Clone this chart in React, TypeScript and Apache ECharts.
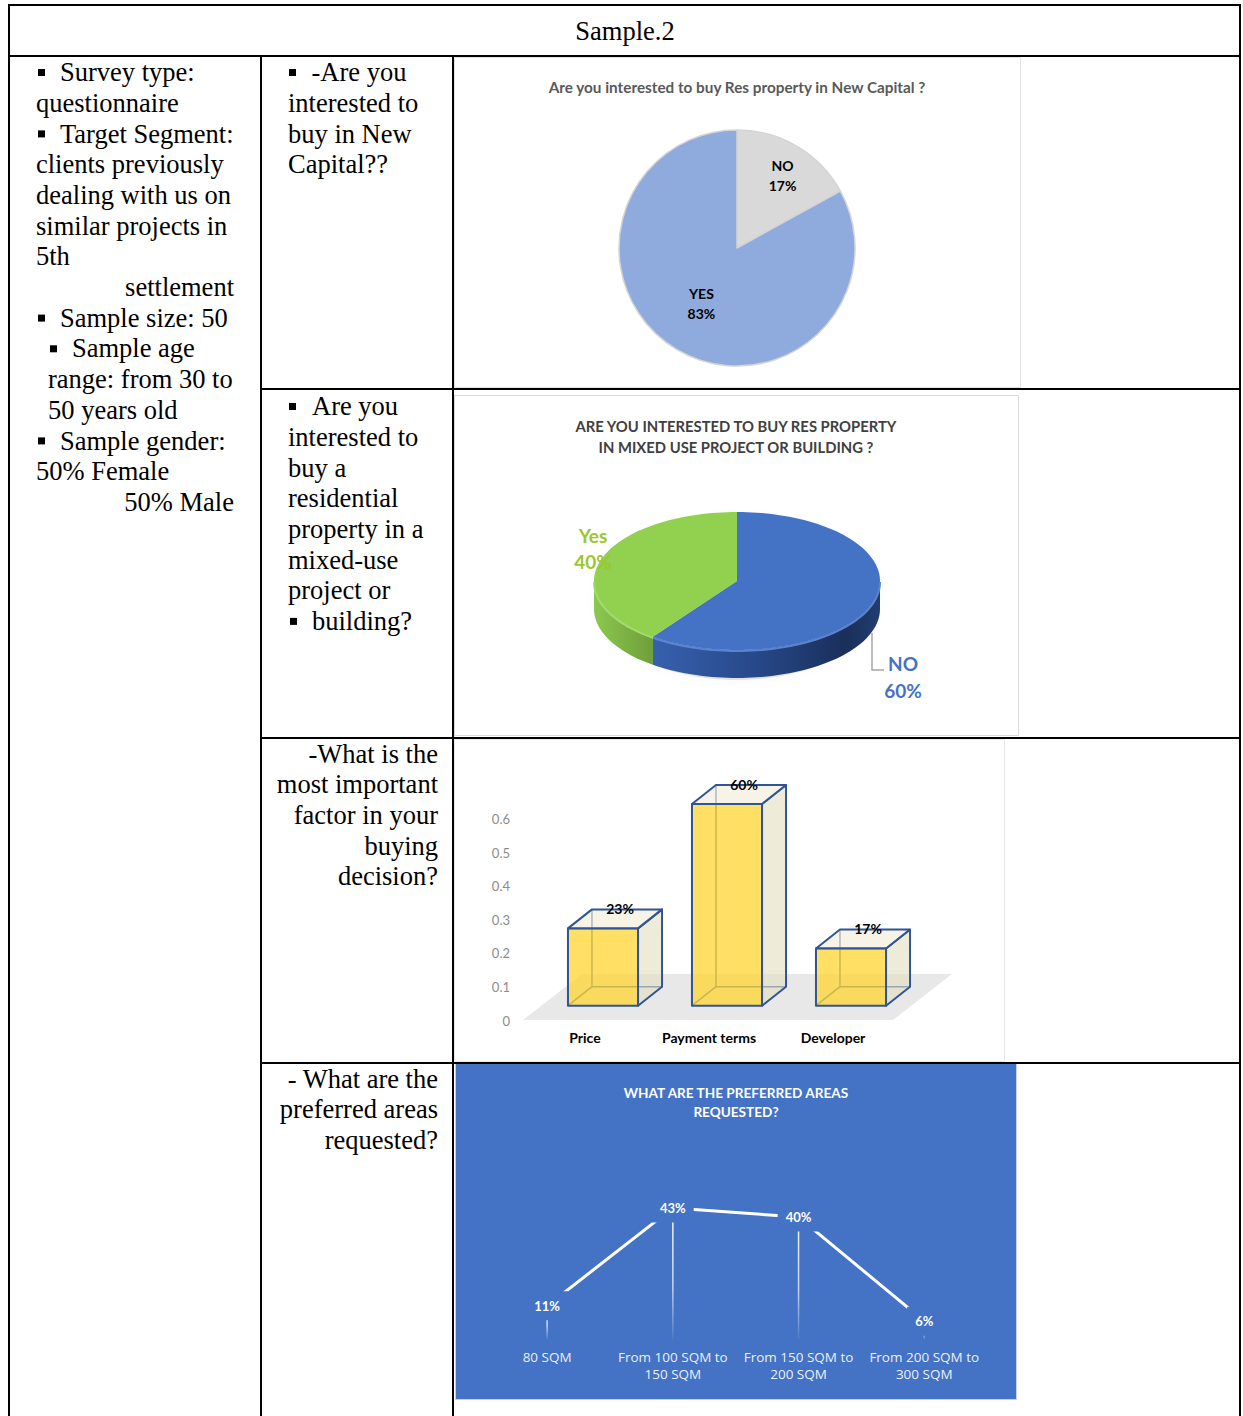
import React, { useEffect, useRef } from "react";
import * as echarts from "echarts";

const SERIF = "'Liberation Serif', 'Times New Roman', serif";
const SANS = "Lato, 'Open Sans', 'Noto Sans', sans-serif";
const SANS2 = "'Open Sans', 'Noto Sans', sans-serif";

// ---------- data ----------
const pageTitle = "Sample.2";

const pie1Title = "Are you interested to buy Res property in New Capital ?";
const pie1Cats = ["NO", "YES"];
const pie1Vals = [17, 83];

const pie2TitleLines = ["ARE YOU INTERESTED TO BUY RES PROPERTY", "IN MIXED USE PROJECT OR BUILDING ?"];
const pie2Cats = ["NO", "Yes"];
const pie2Vals = [60, 40];

const barCats = ["Price", "Payment terms", "Developer"];
const barVals = [0.23, 0.6, 0.17];

const lineTitleLines = ["WHAT ARE THE PREFERRED AREAS", "REQUESTED?"];
const lineCats = ["80 SQM", "From 100 SQM to 150 SQM", "From 150 SQM to 200 SQM", "From 200 SQM to 300 SQM"];
const lineVals = [0.11, 0.43, 0.4, 0.06];

// table texts: [text, x, line index, align, bulletX]
type TL = [string, number, number, ("left" | "right")?, number?];
const col1Lines: TL[] = [
  ["Survey type:", 60, 0, "left", 38],
  ["questionnaire", 36, 1],
  ["Target Segment:", 60, 2, "left", 38],
  ["clients previously", 36, 3],
  ["dealing with us on", 36, 4],
  ["similar projects in", 36, 5],
  ["5th", 36, 6],
  ["settlement", 234, 7, "right"],
  ["Sample size: 50", 60, 8, "left", 38],
  ["Sample age", 72, 9, "left", 50],
  ["range: from 30 to", 48, 10],
  ["50 years old", 48, 11],
  ["Sample gender:", 60, 12, "left", 38],
  ["50% Female", 36, 13],
  ["50% Male", 234, 14, "right"],
];
const q1Lines: TL[] = [
  ["-Are you", 311.5, 0, "left", 289],
  ["interested to", 288, 1],
  ["buy in New", 288, 2],
  ["Capital??", 288, 3],
];
const q2Lines: TL[] = [
  ["Are you", 312, 0, "left", 289],
  ["interested to", 288, 1],
  ["buy a", 288, 2],
  ["residential", 288, 3],
  ["property in a", 288, 4],
  ["mixed-use", 288, 5],
  ["project or", 288, 6],
  ["building?", 312, 7, "left", 290],
];
const q3Lines: TL[] = [
  ["-What is the", 438, 0, "right"],
  ["most important", 438, 1, "right"],
  ["factor in your", 438, 2, "right"],
  ["buying", 438, 3, "right"],
  ["decision?", 438, 4, "right"],
];
const q4Lines: TL[] = [
  ["- What are the", 438, 0, "right"],
  ["preferred areas", 438, 1, "right"],
  ["requested?", 438, 2, "right"],
];

// ---------- layout helpers ----------
const LH = 30.7;
const FS = 26.5;

function textBlock(lines: TL[], base0: number): any[] {
  const out: any[] = [];
  lines.forEach(([t, x, k, align, bx]) => {
    const base = base0 + LH * k;
    out.push({
      type: "text",
      x,
      y: base - 8.9,
      style: { text: t, fill: "#000", fontFamily: SERIF, fontSize: FS, align: align || "left", verticalAlign: "middle" },
    });
    if (bx !== undefined) {
      out.push({ type: "rect", shape: { x: bx, y: base - 12, width: 7, height: 7 }, style: { fill: "#000" } });
    }
  });
  return out;
}

function hRule(x: number, y: number, w: number): any {
  return { type: "rect", shape: { x, y, width: w, height: 2 }, style: { fill: "#000" } };
}
function vRule(x: number, y: number, h: number): any {
  return { type: "rect", shape: { x, y, width: 2, height: h }, style: { fill: "#000" } };
}
function label(t: string, x: number, y: number, opts: any): any {
  return {
    type: "text",
    x,
    y,
    style: Object.assign({ text: t, align: "center", verticalAlign: "middle", fontFamily: SANS, fontWeight: "bold" }, opts),
  };
}

// 3D pie geometry
const P2 = { cx: 737, cy: 581, rx: 143, ry: 69, depth: 28 };
function ellPt(theta: number, dy: number): number[] {
  const r = (theta * Math.PI) / 180;
  return [P2.cx + P2.rx * Math.cos(r), P2.cy - P2.ry * Math.sin(r) + dy];
}
function arc(a: number, b: number, dy: number): number[][] {
  const n = Math.max(2, Math.ceil(Math.abs(b - a) / 2));
  const pts: number[][] = [];
  for (let i = 0; i <= n; i++) pts.push(ellPt(a + ((b - a) * i) / n, dy));
  return pts;
}
const pie2TopColors = ["#4472C4", "#92D050"];
const pie2RimColors = ["#5A84CF", "#A3DA6C"];
const pie2LabelColors = ["#4472C4", "#9AC72C"];
// label anchor points (x, name line y, value line y)
const pie2LabelPos = [
  [903, 663, 690],
  [593, 535, 561],
];
const pie2SideStops = [
  [
    { offset: 0, color: "#3761AD" },
    { offset: 0.45, color: "#27488A" },
    { offset: 0.85, color: "#1A2F5A" },
    { offset: 1, color: "#223D70" },
  ],
  [
    { offset: 0, color: "#8CC850" },
    { offset: 1, color: "#6E9F3A" },
  ],
];
const pie1Colors = ["#D9D9D9", "#8FAADC"];
const pie1LabelOffsets = [
  [14, -19],
  [-4, 2],
];

function buildOption(): any {
  const elements: any[] = [];

  // chart image backgrounds
  elements.push({ type: "rect", shape: { x: 454.5, y: 57.5, width: 566, height: 330 }, style: { fill: "#fff", stroke: "#E2E2E2", lineWidth: 1 } });
  elements.push({ type: "rect", shape: { x: 454.5, y: 395.5, width: 564, height: 340 }, style: { fill: "#fff", stroke: "#D9D9D9", lineWidth: 1 } });
  elements.push({ type: "rect", shape: { x: 454.5, y: 739.5, width: 550, height: 322 }, style: { fill: "#fff", stroke: "#E8E8E8", lineWidth: 1 } });
  elements.push({ type: "rect", shape: { x: 455.5, y: 1063.5, width: 561, height: 336 }, style: { fill: "#4472C4", stroke: "#C5D0E6", lineWidth: 1 } });

  // table rules
  elements.push(hRule(8, 4, 1233));
  elements.push(hRule(8, 55, 1233));
  elements.push(vRule(8, 4, 1412));
  elements.push(vRule(260, 55, 1361));
  elements.push(vRule(452, 55, 1361));
  elements.push(vRule(1239, 4, 1412));
  elements.push(hRule(260, 388, 981));
  elements.push(hRule(260, 737, 981));
  elements.push(hRule(260, 1062, 981));

  // header
  elements.push({
    type: "text",
    x: 625,
    y: 31,
    style: { text: pageTitle, fill: "#000", fontFamily: SERIF, fontSize: FS, align: "center", verticalAlign: "middle" },
  });

  elements.push(...textBlock(col1Lines, 81));
  elements.push(...textBlock(q1Lines, 81));
  elements.push(...textBlock(q2Lines, 415));
  elements.push(...textBlock(q3Lines, 762.5));
  elements.push(...textBlock(q4Lines, 1087.5));

  // chart titles
  elements.push(label(pie1Title, 737, 87, { fill: "#595959", fontSize: 15.3 }));
  elements.push(label(pie2TitleLines[0], 736, 426, { fill: "#404040", fontSize: 14.8 }));
  elements.push(label(pie2TitleLines[1], 736, 447, { fill: "#404040", fontSize: 14.8 }));
  elements.push(label(lineTitleLines[0], 736, 1093, { fill: "#FFFFFF", fontSize: 13.6 }));
  elements.push(label(lineTitleLines[1], 736, 1112, { fill: "#FFFFFF", fontSize: 13.6 }));

  // pie 2 shadow
  elements.push({
    type: "ellipse",
    shape: { cx: 737, cy: 598, rx: 143, ry: 82 },
    style: { fill: "rgba(0,0,0,0.10)", shadowBlur: 10, shadowColor: "rgba(0,0,0,0.25)" },
  });

  // bar floor
  elements.push({
    type: "polygon",
    shape: { points: [[523, 1020], [893, 1020], [952, 974], [582, 974]] },
    style: { fill: "#E8E8E8" },
  });

  const pie2Total = pie2Vals.reduce((a, b) => a + b, 0);

  return {
    animation: false,
    graphic: { elements },
    grid: [
      { left: 523, width: 372, top: 819, height: 201.7, containLabel: false },
      { left: 484.3, width: 502.8, top: 1186.5, height: 153, containLabel: false },
    ],
    xAxis: [
      {
        gridIndex: 0,
        type: "category",
        data: barCats,
        axisLine: { show: false },
        axisTick: { show: false },
        splitLine: { show: false },
        axisLabel: { color: "#000", fontWeight: "bold", fontSize: 14, fontFamily: SANS, margin: 10, interval: 0 },
      },
      {
        gridIndex: 1,
        type: "category",
        data: lineCats,
        axisLine: { show: false },
        axisTick: { show: false },
        splitLine: { show: false },
        axisLabel: {
          color: "rgba(255,255,255,0.92)",
          fontSize: 13.5,
          fontFamily: SANS2,
          lineHeight: 17,
          margin: 9,
          interval: 0,
          formatter: (v: string) => v.replace(" to ", " to\n"),
        },
      },
    ],
    yAxis: [
      {
        gridIndex: 0,
        type: "value",
        min: 0,
        max: 0.6,
        interval: 0.1,
        axisLine: { show: false },
        axisTick: { show: false },
        splitLine: { show: false },
        axisLabel: { color: "#8C8C8C", fontSize: 13, fontFamily: SANS, margin: 13 },
      },
      { gridIndex: 1, type: "value", min: 0, max: 0.5, show: false },
    ],
    series: [
      {
        type: "pie",
        center: [737, 248],
        radius: 118,
        startAngle: 90,
        clockwise: true,
        silent: true,
        data: pie1Cats.map((n, i) => ({
          name: n,
          value: pie1Vals[i],
          itemStyle: { color: pie1Colors[i] },
          label: { offset: pie1LabelOffsets[i] },
        })),
        itemStyle: { borderColor: "#D4D4D4", borderWidth: 1.5 },
        label: {
          show: true,
          position: "inside",
          formatter: "{b}\n{d}%",
          color: "#000",
          fontFamily: SANS,
          fontWeight: "bold",
          fontSize: 14,
          lineHeight: 20,
        },
        labelLine: { show: false },
      },
      {
        type: "custom",
        coordinateSystem: "none",
        silent: true,
        data: pie2Vals.map((v) => [v]),
        renderItem: (params: any, api: any) => {
          const i = params.dataIndex;
          const v = api.value(0);
          let before = 0;
          for (let j = 0; j < i; j++) before += pie2Vals[j];
          const start = 90 - (360 * before) / pie2Total;
          const end = start - (360 * v) / pie2Total;
          const children: any[] = [];
          const rims: any[] = [];
          const lowers = [
            [-540, -360],
            [-180, 0],
            [180, 360],
          ];
          for (const [a, b] of lowers) {
            const s = Math.max(end, a);
            const e = Math.min(start, b);
            if (e > s + 0.01) {
              const top = arc(s, e, 0);
              const bot = arc(e, s, P2.depth);
              children.push({
                type: "polygon",
                shape: { points: top.concat(bot) },
                style: { fill: new echarts.graphic.LinearGradient(0, 0, 1, 0, pie2SideStops[i]) },
              });
              rims.push({
                type: "polyline",
                shape: { points: arc(s, e, 1) },
                style: { stroke: pie2RimColors[i], lineWidth: 2, fill: null },
              });
            }
          }
          children.push({
            type: "polygon",
            shape: { points: [[P2.cx, P2.cy]].concat(arc(start, end, 0)) },
            style: { fill: pie2TopColors[i] },
          });
          children.push(...rims);
          const lp = pie2LabelPos[i];
          const ls = { fill: pie2LabelColors[i], fontFamily: SANS, fontWeight: "bold", fontSize: 19, align: "center", verticalAlign: "middle" };
          children.push({ type: "text", x: lp[0], y: lp[1], z2: 50, style: Object.assign({ text: pie2Cats[i] }, ls) });
          children.push({ type: "text", x: lp[0], y: lp[2], z2: 50, style: Object.assign({ text: Math.round((100 * v) / pie2Total) + "%" }, ls) });
          if (i === 0) {
            children.push({
              type: "polyline",
              shape: { points: [[872, 633], [872, 670], [884, 670]] },
              style: { stroke: "#A6A6A6", lineWidth: 1.5, fill: null },
            });
          }
          return { type: "group", children };
        },
      },
      {
        type: "custom",
        xAxisIndex: 0,
        yAxisIndex: 0,
        silent: true,
        clip: false,
        data: barVals.map((v, i) => [i, v]),
        renderItem: (params: any, api: any) => {
          const i = api.value(0);
          const v = api.value(1);
          const p0 = api.coord([i, 0]);
          const p1 = api.coord([i, v]);
          const band = api.size([1, 0])[0];
          const w = band * 0.565;
          const L = p0[0] + 18 - w / 2;
          const R = L + w;
          const B = p0[1] - 15;
          const T = p1[1] - 15;
          const dx = 24;
          const dy = -19;
          const edge = { stroke: "#2F5597", lineWidth: 2, lineJoin: "round" };
          const hid = { stroke: "#2F5597", lineWidth: 1.5 };
          return {
            type: "group",
            children: [
              { type: "line", shape: { x1: L + dx, y1: B + dy, x2: L + dx, y2: T + dy }, style: hid },
              { type: "line", shape: { x1: L + dx, y1: B + dy, x2: R + dx, y2: B + dy }, style: hid },
              { type: "line", shape: { x1: L, y1: B, x2: L + dx, y2: B + dy }, style: hid },
              {
                type: "polygon",
                shape: { points: [[R, T], [R + dx, T + dy], [R + dx, B + dy], [R, B]] },
                style: Object.assign({ fill: "rgba(228,222,192,0.6)" }, edge),
              },
              {
                type: "polygon",
                shape: { points: [[L, T], [L + dx, T + dy], [R + dx, T + dy], [R, T]] },
                style: Object.assign({ fill: "rgba(243,237,218,0.65)" }, edge),
              },
              {
                type: "rect",
                shape: { x: L, y: T, width: w, height: B - T },
                style: Object.assign({ fill: "rgba(255,213,50,0.75)" }, edge),
              },
              {
                type: "text",
                x: (L + R) / 2 + 17,
                y: T + dy - 1,
                style: {
                  text: Math.round(v * 100) + "%",
                  fill: "#000",
                  fontFamily: SANS,
                  fontWeight: "bold",
                  fontSize: 14,
                  align: "center",
                  verticalAlign: "middle",
                },
              },
            ],
          };
        },
      },
      {
        type: "bar",
        xAxisIndex: 1,
        yAxisIndex: 1,
        data: lineVals,
        barWidth: 1.5,
        z: 2,
        silent: true,
        itemStyle: {
          color: new echarts.graphic.LinearGradient(0, 0, 0, 1, [
            { offset: 0, color: "rgba(255,255,255,0.95)" },
            { offset: 0.6, color: "rgba(255,255,255,0.7)" },
            { offset: 1, color: "rgba(255,255,255,0.05)" },
          ]),
        },
      },
      {
        type: "line",
        xAxisIndex: 1,
        yAxisIndex: 1,
        data: lineVals,
        z: 3,
        silent: true,
        symbol: "circle",
        symbolSize: 1,
        itemStyle: { color: "rgba(0,0,0,0)" },
        lineStyle: { color: "#FFFFFF", width: 3 },
        label: {
          show: true,
          position: "inside",
          formatter: (p: any) => Math.round(p.value * 100) + "%",
          color: "#FFFFFF",
          fontWeight: "bold",
          fontSize: 13,
          fontFamily: SANS,
          backgroundColor: "#4472C4",
          padding: [8, 8],
        },
      },
    ],
  };
}

export default function App() {
  const ref = useRef<HTMLDivElement>(null);
  useEffect(() => {
    if (!ref.current) return;
    const chart = echarts.init(ref.current, undefined, { renderer: "svg" });
    chart.setOption(buildOption());
    return () => chart.dispose();
  }, []);
  return (
    <div
      ref={ref}
      style={{ position: "absolute", left: 0, top: 0, width: 1243, height: 1416, background: "#fff" }}
    />
  );
}
